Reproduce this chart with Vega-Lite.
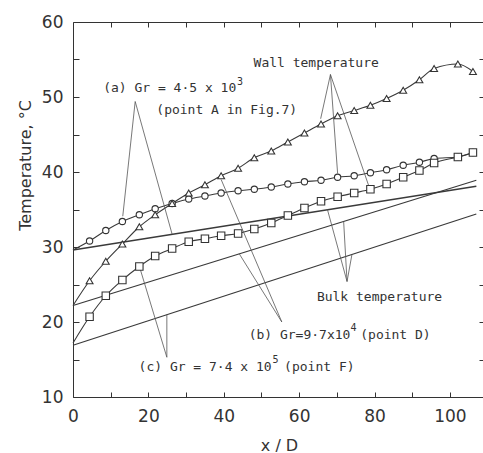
{
  "$schema": "https://vega.github.io/schema/vega-lite/v6.json",
  "width": 412,
  "height": 375,
  "autosize": "none",
  "padding": {"left": 73, "top": 22, "right": 0, "bottom": 56},
  "background": "white",
  "config": {
    "view": {"stroke": null},
    "font": "DejaVu Sans",
    "axis": {"labelFlush": false, "grid": false}
  },
  "datasets": {
    "wall": [
      {"series": "a", "x": 0, "t": 29.6},
      {"series": "a", "x": 4.4, "t": 30.8},
      {"series": "a", "x": 8.7, "t": 32.2},
      {"series": "a", "x": 13.1, "t": 33.4},
      {"series": "a", "x": 17.6, "t": 34.3},
      {"series": "a", "x": 21.8, "t": 35.1},
      {"series": "a", "x": 26.3, "t": 35.8},
      {"series": "a", "x": 30.7, "t": 36.4},
      {"series": "a", "x": 35.0, "t": 36.8},
      {"series": "a", "x": 39.3, "t": 37.2},
      {"series": "a", "x": 43.8, "t": 37.5},
      {"series": "a", "x": 48.1, "t": 37.7},
      {"series": "a", "x": 52.6, "t": 38.0},
      {"series": "a", "x": 57.0, "t": 38.4},
      {"series": "a", "x": 61.4, "t": 38.7},
      {"series": "a", "x": 65.8, "t": 38.9},
      {"series": "a", "x": 70.2, "t": 39.3},
      {"series": "a", "x": 74.6, "t": 39.5},
      {"series": "a", "x": 78.9, "t": 39.9},
      {"series": "a", "x": 83.2, "t": 40.3},
      {"series": "a", "x": 87.6, "t": 40.9},
      {"series": "a", "x": 91.9, "t": 41.3},
      {"series": "a", "x": 95.8, "t": 41.8},
      {"series": "a", "x": 102.1, "t": 42.0},
      {"series": "a", "x": 106.1, "t": 42.6},
      {"series": "b", "x": 0, "t": 22.2},
      {"series": "b", "x": 4.4, "t": 25.5},
      {"series": "b", "x": 8.7, "t": 28.1},
      {"series": "b", "x": 13.1, "t": 30.4},
      {"series": "b", "x": 17.6, "t": 32.7},
      {"series": "b", "x": 21.8, "t": 34.3},
      {"series": "b", "x": 26.3, "t": 35.8},
      {"series": "b", "x": 30.7, "t": 37.2},
      {"series": "b", "x": 35.0, "t": 38.3},
      {"series": "b", "x": 39.3, "t": 39.5},
      {"series": "b", "x": 43.8, "t": 40.5},
      {"series": "b", "x": 48.1, "t": 41.9},
      {"series": "b", "x": 52.6, "t": 42.8},
      {"series": "b", "x": 57.0, "t": 44.0},
      {"series": "b", "x": 61.4, "t": 45.2},
      {"series": "b", "x": 65.8, "t": 46.4},
      {"series": "b", "x": 70.2, "t": 47.5},
      {"series": "b", "x": 74.6, "t": 48.2},
      {"series": "b", "x": 78.9, "t": 48.9},
      {"series": "b", "x": 83.2, "t": 49.8},
      {"series": "b", "x": 87.6, "t": 50.9},
      {"series": "b", "x": 91.9, "t": 52.3},
      {"series": "b", "x": 95.8, "t": 53.8},
      {"series": "b", "x": 102.1, "t": 54.4},
      {"series": "b", "x": 106.1, "t": 53.4},
      {"series": "c", "x": 0, "t": 17.2},
      {"series": "c", "x": 4.4, "t": 20.7},
      {"series": "c", "x": 8.7, "t": 23.5},
      {"series": "c", "x": 13.1, "t": 25.6},
      {"series": "c", "x": 17.6, "t": 27.4},
      {"series": "c", "x": 21.8, "t": 28.8},
      {"series": "c", "x": 26.3, "t": 29.8},
      {"series": "c", "x": 30.7, "t": 30.7},
      {"series": "c", "x": 35.0, "t": 31.1},
      {"series": "c", "x": 39.3, "t": 31.5},
      {"series": "c", "x": 43.8, "t": 31.8},
      {"series": "c", "x": 48.1, "t": 32.4},
      {"series": "c", "x": 52.6, "t": 33.2},
      {"series": "c", "x": 57.0, "t": 34.2},
      {"series": "c", "x": 61.4, "t": 35.2},
      {"series": "c", "x": 65.8, "t": 36.1},
      {"series": "c", "x": 70.2, "t": 36.7},
      {"series": "c", "x": 74.6, "t": 37.2},
      {"series": "c", "x": 78.9, "t": 37.7},
      {"series": "c", "x": 83.2, "t": 38.4},
      {"series": "c", "x": 87.6, "t": 39.3},
      {"series": "c", "x": 91.9, "t": 40.2},
      {"series": "c", "x": 95.8, "t": 41.2},
      {"series": "c", "x": 102.1, "t": 42.0},
      {"series": "c", "x": 106.1, "t": 42.6}
    ],
    "bulk": [
      {"series": "a", "x": 0, "t": 29.6},
      {"series": "a", "x": 107, "t": 38.1},
      {"series": "b", "x": 0, "t": 22.2},
      {"series": "b", "x": 107, "t": 38.9},
      {"series": "c", "x": 0, "t": 16.9},
      {"series": "c", "x": 107, "t": 34.4}
    ],
    "leaders": [
      {"x": 16.5, "t": 49.4, "x2": 13.2, "t2": 34.1},
      {"x": 16.5, "t": 49.4, "x2": 26.3, "t2": 31.7},
      {"x": 68.3, "t": 53.0, "x2": 65.7, "t2": 47.1},
      {"x": 68.3, "t": 53.0, "x2": 70.2, "t2": 39.8},
      {"x": 68.3, "t": 53.0, "x2": 78.5, "t2": 38.1},
      {"x": 55.4, "t": 20.0, "x2": 39.3, "t2": 39.0},
      {"x": 55.4, "t": 20.0, "x2": 44.1, "t2": 29.1},
      {"x": 72.7, "t": 25.4, "x2": 67.5, "t2": 35.0},
      {"x": 72.7, "t": 25.4, "x2": 71.8, "t2": 33.4},
      {"x": 72.7, "t": 25.4, "x2": 74.0, "t2": 29.0},
      {"x": 24.9, "t": 15.3, "x2": 17.8, "t2": 27.1},
      {"x": 24.9, "t": 15.3, "x2": 24.9, "t2": 21.0}
    ],
    "notes": [
      {"kind": "main", "text": "(a) Gr = 4·5 x 10", "x": 8.0, "t": 51.2},
      {"kind": "sup", "text": "3", "x": 43.5, "t": 52.0},
      {"kind": "main", "text": "(point A in Fig.7)", "x": 22.1, "t": 48.3},
      {"kind": "main", "text": "Wall  temperature", "x": 47.9, "t": 54.5},
      {"kind": "main", "text": "Bulk  temperature", "x": 64.7, "t": 23.4},
      {"kind": "main", "text": "(b) Gr=9·7x10", "x": 46.6, "t": 18.3},
      {"kind": "sup", "text": "4", "x": 73.6, "t": 19.2},
      {"kind": "main", "text": "(point D)", "x": 76.2, "t": 18.3},
      {"kind": "main", "text": "(c) Gr = 7·4 x 10", "x": 17.4, "t": 14.0},
      {"kind": "sup", "text": "5", "x": 52.9, "t": 14.9},
      {"kind": "main", "text": "(point F)", "x": 56.0, "t": 14.0}
    ]
  },
  "resolve": {"axis": {"x": "independent", "y": "independent"}},
  "layer": [
    {
      "data": {"name": "bulk"},
      "mark": {"type": "line", "color": "#3a3a3a", "strokeWidth": 1.3},
      "encoding": {
        "x": {
          "field": "x", "type": "quantitative",
          "scale": {"domain": [0, 109.3], "nice": false, "zero": false},
          "axis": {
            "orient": "bottom",
            "values": [0, 10, 20, 30, 40, 50, 60, 70, 80, 90, 100],
            "labelExpr": "datum.value % 20 === 0 ? datum.label : ''",
            "tickSize": -5, "tickColor": "#333", "domainColor": "#333",
            "labelFontSize": 17, "labelColor": "#333", "labelPadding": 16,
            "title": "x / D", "titleFontSize": 16, "titleFontWeight": "normal",
            "titleColor": "#333", "titlePadding": 13
          }
        },
        "y": {
          "field": "t", "type": "quantitative",
          "scale": {"domain": [10, 60], "nice": false, "zero": false},
          "axis": {
            "orient": "left",
            "values": [10, 15, 20, 25, 30, 35, 40, 45, 50, 55, 60],
            "labelExpr": "datum.value % 10 === 0 ? datum.label : ''",
            "tickSize": -6, "tickColor": "#333", "domainColor": "#333",
            "labelFontSize": 17, "labelColor": "#333", "labelPadding": 16,
            "title": "Temperature,  °C", "titleFontSize": 16, "titleFontWeight": "normal",
            "titleColor": "#333", "titleAngle": 270, "titleAlign": "center",
            "titleBaseline": "middle", "titleX": -48, "titleY": 143
          }
        },
        "detail": {"field": "series"}
      }
    },
    {
      "data": {"name": "wall"},
      "mark": {"type": "line", "color": "#3a3a3a", "strokeWidth": 1.1, "interpolate": "monotone"},
      "encoding": {
        "x": {"field": "x", "type": "quantitative", "scale": {"domain": [0, 109.3], "nice": false, "zero": false}, "axis": null},
        "y": {"field": "t", "type": "quantitative", "scale": {"domain": [10, 60], "nice": false, "zero": false}, "axis": null},
        "detail": {"field": "series"}
      }
    },
    {
      "data": {"name": "leaders"},
      "mark": {"type": "rule", "color": "#555", "strokeWidth": 0.8},
      "encoding": {
        "x": {
          "field": "x", "type": "quantitative",
          "scale": {"domain": [0, 109.3], "nice": false, "zero": false},
          "axis": {
            "orient": "top",
            "values": [10, 20, 30, 40, 50, 60, 70, 80, 90, 100],
            "labels": false, "tickSize": -5, "tickColor": "#333",
            "domainColor": "#333", "title": null
          }
        },
        "y": {
          "field": "t", "type": "quantitative",
          "scale": {"domain": [10, 60], "nice": false, "zero": false},
          "axis": {
            "orient": "right",
            "values": [15, 20, 25, 30, 35, 40, 45, 50, 55],
            "labels": false, "tickSize": -6, "tickColor": "#333",
            "domain": false, "title": null
          }
        },
        "x2": {"field": "x2"},
        "y2": {"field": "t2"}
      }
    },
    {
      "data": {"name": "wall"},
      "transform": [{"filter": "datum.x > 0"}],
      "mark": {"type": "point", "filled": false, "fill": "white", "fillOpacity": 1, "color": "#333", "strokeWidth": 1.1, "opacity": 1},
      "encoding": {
        "x": {"field": "x", "type": "quantitative", "scale": {"domain": [0, 109.3], "nice": false, "zero": false}, "axis": null},
        "y": {"field": "t", "type": "quantitative", "scale": {"domain": [10, 60], "nice": false, "zero": false}, "axis": null},
        "shape": {
          "field": "series", "type": "nominal",
          "scale": {"domain": ["a", "b", "c"], "range": ["circle", "triangle-up", "square"]},
          "legend": null
        },
        "size": {
          "field": "series", "type": "nominal",
          "scale": {"domain": ["a", "b", "c"], "range": [40, 55, 40]},
          "legend": null
        }
      }
    },
    {
      "data": {"name": "notes"},
      "transform": [{"filter": "datum.kind === 'main'"}],
      "mark": {"type": "text", "align": "left", "baseline": "middle", "fontSize": 13, "font": "DejaVu Sans Mono", "color": "#333"},
      "encoding": {
        "x": {"field": "x", "type": "quantitative", "scale": {"domain": [0, 109.3], "nice": false, "zero": false}, "axis": null},
        "y": {"field": "t", "type": "quantitative", "scale": {"domain": [10, 60], "nice": false, "zero": false}, "axis": null},
        "text": {"field": "text"}
      }
    },
    {
      "data": {"name": "notes"},
      "transform": [{"filter": "datum.kind === 'sup'"}],
      "mark": {"type": "text", "align": "left", "baseline": "middle", "fontSize": 10, "font": "DejaVu Sans Mono", "color": "#333"},
      "encoding": {
        "x": {"field": "x", "type": "quantitative", "scale": {"domain": [0, 109.3], "nice": false, "zero": false}, "axis": null},
        "y": {"field": "t", "type": "quantitative", "scale": {"domain": [10, 60], "nice": false, "zero": false}, "axis": null},
        "text": {"field": "text"}
      }
    }
  ]
}
